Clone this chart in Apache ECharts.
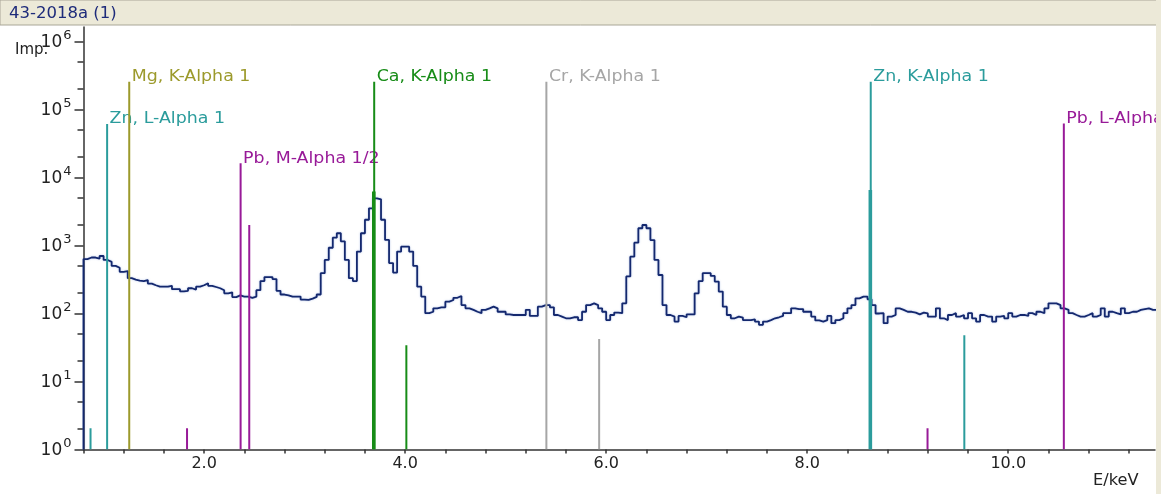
<!DOCTYPE html>
<html><head><meta charset="utf-8">
<script src="https://cdn.jsdelivr.net/npm/echarts@6/dist/echarts.min.js"></script>
<style>html,body{margin:0;padding:0;background:#fff}#c{width:1161px;height:494px}</style>
</head><body><div id="c"></div>
<script>
// ---------- data ----------
const titleText = '43-2018a (1)';
const yAxisName = 'Imp.';
const xAxisName = 'E/keV';

// spectrum channels (keV start of first channel, channel width) and counts per channel
const binStartKeV = 0.8;
const binWidthKeV = 0.04;
const counts = [
  630, 665, 665, 640, 700, 612, 575, 500, 470, 410,
  420, 330, 315, 305, 300, 310, 275, 260, 248, 248,
  248, 255, 228, 228, 212, 215, 235, 225, 248, 260,
  278, 255, 245, 235, 220, 198, 205, 174, 185, 177,
  177, 170, 177, 220, 300, 343, 343, 320, 215, 190,
  185, 177, 177, 177, 160, 158, 165, 175, 190, 391,
  612, 925, 1300, 1511, 1150, 612, 330, 300, 812, 1511,
  2390, 3520, 4940, 4780, 2390, 1205, 550, 400, 812, 960,
  960, 812, 500, 248, 177, 101, 106, 119, 123, 123,
  149, 158, 170, 181, 133, 119, 113, 106, 101, 113,
  119, 126, 119, 106, 106, 97, 95, 95, 95, 95,
  113, 92, 92, 126, 133, 133, 123, 95, 90, 85,
  85, 88, 88, 80, 106, 133, 141, 133, 119, 106,
  80, 95, 103, 101, 141, 350, 684, 1100, 1790, 2000,
  1790, 1200, 612, 368, 133, 95, 90, 76, 92, 88,
  97, 97, 198, 300, 391, 391, 356, 294, 210, 126,
  95, 85, 90, 87, 80, 80, 82, 76, 68, 76,
  80, 85, 88, 92, 101, 101, 119, 116, 116, 106,
  106, 90, 79, 76, 80, 92, 72, 80, 85, 101,
  119, 133, 167, 177, 177, 162, 133, 100, 101, 72,
  90, 95, 119, 113, 106, 106, 103, 97, 103, 100,
  90, 90, 119, 85, 80, 95, 101, 90, 95, 85,
  101, 85, 76, 95, 90, 90, 76, 90, 92, 85,
  101, 90, 95, 95, 92, 101, 95, 106, 101, 119,
  141, 141, 133, 119, 113, 101, 95, 90, 90, 95,
  101, 90, 95, 119, 90, 106, 101, 97, 119, 101,
  106, 106, 113, 116, 119, 113, 113
];

// element line markers
const markerElement = ['Zn', 'Zn', 'Mg', 'Pb', 'Pb', 'Pb', 'Ca', 'Ca', 'Ca', 'Cr', 'Cr', 'Zn', 'Zn', 'Pb', 'Zn', 'Pb'];
const markerLine = ['L-l', 'L-Alpha 1', 'K-Alpha 1', 'M-zeta', 'M-Alpha 1/2', 'M-Beta', 'K-Alpha 1', 'K-Alpha 2', 'K-Beta 1',
                    'K-Alpha 1', 'K-Beta 1', 'K-Alpha 1', 'K-Alpha 2', 'L-l', 'K-Beta 1', 'L-Alpha 1'];
const markerEnergy = [0.87, 1.035, 1.255, 1.83, 2.363, 2.449, 3.692, 3.688, 4.012, 5.405, 5.93, 8.632, 8.628, 9.197, 9.563, 10.553];
const markerHeight = [2.05, 61000, 255000, 2.05, 16200, 2000, 255000, 6200, 34, 255000, 42, 255000, 6550, 2.05, 48, 62000];
const markerLabeled = [false, true, true, false, true, false, true, false, false, true, false, true, false, false, false, true];

// axes
const xMin = 0.8, xMax = 11.46;
const xTickValues = [0.8, 1.2, 1.6, 2.0, 2.4, 2.8, 3.2, 3.6, 4.0, 4.4, 4.8, 5.2, 5.6, 6.0, 6.4, 6.8, 7.2, 7.6, 8.0, 8.4, 8.8, 9.2, 9.6, 10.0, 10.4, 10.8, 11.2];
const xLabelValues = [2, 4, 6, 8, 10];
const yMin = 1, yMax = 1.63e6;
const yMajorTicks = [1, 10, 100, 1000, 10000, 100000, 1000000];
const yMinorTicks = [2, 5, 20, 50, 200, 500, 2000, 5000, 20000, 50000, 200000, 500000];

// ---------- styles ----------
const elementColor = { Zn: '#2b9c9c', Mg: '#9c9a2c', Pb: '#981a98', Ca: '#178c17', Cr: '#a6a6a6' };
const FONT = '"DejaVu Sans", Verdana, sans-serif';

const spectrum = [[binStartKeV, yMin]];
counts.forEach((c, i) => spectrum.push([binStartKeV + i * binWidthKeV, c]));
spectrum.push([binStartKeV + counts.length * binWidthKeV, counts[counts.length - 1]]);

const chart = echarts.init(document.getElementById('c'), null, { renderer: 'canvas' });
chart.setOption({
  animation: false,
  backgroundColor: '#ffffff',
  grid: { left: 83.5, right: 6, top: 27, bottom: 44.5, containLabel: false },
  xAxis: {
    type: 'value', min: xMin, max: xMax,
    axisLine: { show: true, lineStyle: { color: '#333', width: 1.5 } },
    axisTick: { show: true, customValues: xTickValues, length: 4, lineStyle: { color: '#333', width: 1.5 } },
    axisLabel: { customValues: xLabelValues, formatter: v => v.toFixed(1), color: '#222', fontFamily: FONT, fontSize: 16, margin: 6 },
    splitLine: { show: false }
  },
  yAxis: [{
    type: 'log', min: yMin, max: yMax, logBase: 10,
    axisLine: { show: true, lineStyle: { color: '#333', width: 1.5 } },
    axisTick: { show: true, customValues: yMajorTicks, length: 9, lineStyle: { color: '#333', width: 1.5 } },
    axisLabel: {
      customValues: yMajorTicks, margin: 12,
      formatter: v => '{b|10}{s|' + Math.round(Math.log10(v)) + '}',
      rich: {
        b: { fontFamily: FONT, fontSize: 17, color: '#222', lineHeight: 24, verticalAlign: 'bottom', padding: [0, 0, 2, 0] },
        s: { fontFamily: FONT, fontSize: 13, color: '#222', lineHeight: 24, verticalAlign: 'top', padding: [0, 0, 0, 1] }
      }
    },
    splitLine: { show: false }
  }, {
    type: 'log', min: yMin, max: yMax, logBase: 10, position: 'left',
    axisLine: { show: false },
    axisTick: { show: true, customValues: yMinorTicks, length: 6, lineStyle: { color: '#333', width: 1.5 } },
    axisLabel: { show: false },
    splitLine: { show: false }
  }],
  series: [{
    type: 'line', step: 'end', data: spectrum, yAxisIndex: 0,
    showSymbol: false, symbol: 'none',
    lineStyle: { color: '#14286e', width: 1.8, shadowColor: 'rgba(110,140,210,0.55)', shadowBlur: 2 },
    z: 2
  }, {
    type: 'custom', yAxisIndex: 0, clip: true, z: 3,
    data: markerEnergy.map((e, i) => [e, markerHeight[i]]),
    encode: { x: 0, y: 1 },
    renderItem: function (params, api) {
      const i = params.dataIndex;
      const top = api.coord([api.value(0), api.value(1)]);
      const bot = api.coord([api.value(0), yMin]);
      const el = markerElement[i], ln = markerLine[i];
      const color = elementColor[el];
      const thick = ln === 'K-Alpha 2';
      const children = [{
        type: 'line',
        shape: { x1: top[0], y1: bot[1], x2: top[0], y2: top[1] },
        style: { stroke: color, lineWidth: thick ? 3.6 : 2 }
      }];
      if (markerLabeled[i]) {
        children.push({
          type: 'text', x: top[0] + 2.5, y: top[1] + 3, scaleX: 1.16,
          style: { text: el + ', ' + ln, fill: color, font: '15px ' + FONT, align: 'left', verticalAlign: 'bottom' }
        });
      }
      return { type: 'group', children: children };
    }
  }],
  graphic: [
    { type: 'rect', shape: { x: 0, y: 0, width: 1161, height: 25 }, style: { fill: '#ece9d8', stroke: '#a9a697', lineWidth: 1 }, z: 10 },
    { type: 'text', x: 9, y: 14, scaleX: 1.1, style: { text: titleText, fill: '#1e2b7a', font: '15px ' + FONT, verticalAlign: 'middle' }, z: 11 },
    { type: 'text', x: 15, y: 50, style: { text: yAxisName, fill: '#222', font: '15px ' + FONT, verticalAlign: 'middle' }, z: 11 },
    { type: 'text', x: 1093, y: 481, scaleX: 1.08, style: { text: xAxisName, fill: '#222', font: '15px ' + FONT, verticalAlign: 'middle' }, z: 11 },
    { type: 'rect', shape: { x: 1156, y: 0, width: 5, height: 494 }, style: { fill: '#ece9d8' }, z: 10 }
  ]
});
</script>
</body></html>
